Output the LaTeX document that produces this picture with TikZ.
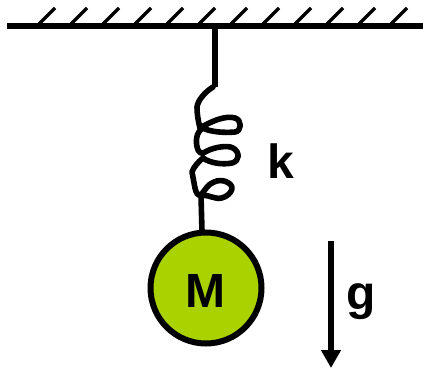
\documentclass[tikz,border=0pt]{standalone}
\usepackage{fontspec}
\setmainfont{Liberation Sans}
\usetikzlibrary{arrows.meta}
\definecolor{massgreen}{HTML}{A9D200}
\tikzset{
  ceil/.style={line width=6pt},
  hatch/.style={line width=3.4pt},
  coil/.style={line width=5.6pt,line join=round,line cap=round},
  massball/.style={circle,draw=black,line width=6pt,fill=massgreen,minimum size=111pt,inner sep=0pt},
  lbl/.style={font=\bfseries\fontsize{48}{48}\selectfont,text=black,inner sep=0pt,anchor=base},
}
\begin{document}
\begin{tikzpicture}[x=1pt,y=-1pt]
\useasboundingbox (0,0) rectangle (423,369);
\coordinate (cl) at (7,26);
\coordinate (cr) at (423,26);
\coordinate (att) at (215,26);
\coordinate (sb) at (215,87);
\draw[ceil] (cl) -- (cr);
\foreach \i in {0,...,11} \draw[hatch] ({39+32*\i},24) -- ({55+32*\i},8);
\node[massball] (m) at (206,288) {};
\draw[line width=5.5pt] (att) -- (sb);
\draw[coil] (213,87) .. controls (205,92) and (198,100) .. (197,107) .. controls (197,114) and (198,120) .. (200,128)
  .. controls (210,122) and (225,115) .. (235,118)
  .. controls (242,120) and (242,131) .. (235,132)
  .. controls (225,133) and (210,132) .. (203,128)
  .. controls (196,132) and (195,142) .. (198,150)
  .. controls (201,155) and (203,153) .. (207,151)
  .. controls (215,147) and (228,145) .. (233,148)
  .. controls (240,152) and (240,161) .. (232,163)
  .. controls (222,165) and (210,163) .. (203,158)
  .. controls (198,162) and (193,168) .. (192,172)
  -- (195,188) .. controls (196,193) and (198,196) .. (201,195)
  .. controls (205,190) and (208,184) .. (214,182)
  .. controls (222,178) and (232,183) .. (232,188)
  .. controls (232,194) and (222,200) .. (216,198)
  .. controls (210,197) and (205,194) .. (201,196)
  -- (202,231);
\node[lbl] (M) at (205,307) {M};
\node[lbl] (k) at (281,178) {k};
\node[lbl] (g) at (361,309) {g};
\coordinate (ga) at (331,241);
\coordinate (gb) at (331,368);
\draw[line width=5.5pt,-{Triangle[length=18pt,width=19pt]}] (ga) -- (gb);
\end{tikzpicture}
\end{document}
